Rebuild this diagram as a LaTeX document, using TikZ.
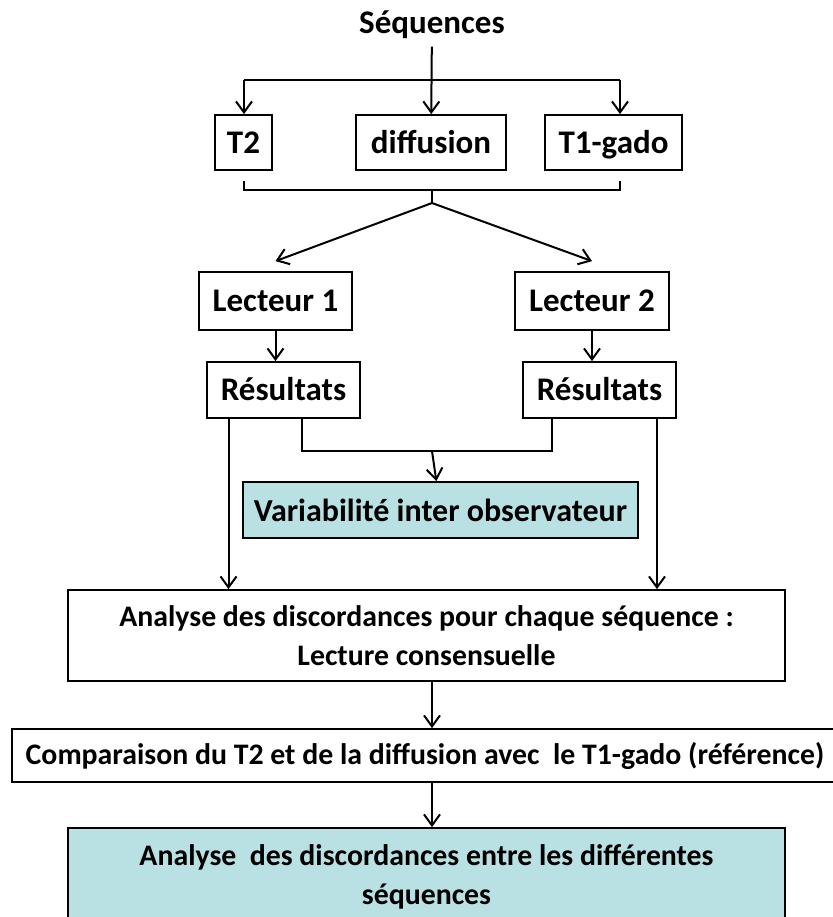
\documentclass[tikz,border=0pt]{standalone}
\usepackage{fontspec}
\setmainfont{Carlito}
\usetikzlibrary{arrows.meta,positioning}
\definecolor{aqua}{RGB}{185,224,227}
\begin{document}
\begin{tikzpicture}[x=0.5pt,y=-0.5pt,>={Straight Barb[length=5.5pt,width=8pt]},line width=1pt,
  every node/.style={font=\bfseries\fontsize{16.5}{20}\selectfont},
  box/.style={draw,line width=0.9pt,minimum height=27.5pt,inner sep=0pt,text height=13.6pt,text depth=3pt},
  widebox/.style={draw,line width=0.9pt,inner sep=0pt,font=\bfseries\fontsize{14.9}{19.5}\selectfont,align=center}]
\useasboundingbox (0,0) rectangle (832,917);
\node (seq) at (432,25) {Séquences};
\node[box,minimum width=28.5pt] (t2) at (243.5,142.5) {T2};
\node[box,minimum width=75pt] (diff) at (431,142.5) {diffusion};
\node[box,minimum width=68.5pt] (t1) at (613.5,142.5) {T1-gado};
\node[box,minimum width=76.5pt,minimum height=29pt] (lect1) at (275.5,301) {Lecteur 1};
\node[box,minimum width=77pt,minimum height=29pt] (lect2) at (592,301) {Lecteur 2};
\node[box,minimum width=76.5pt,minimum height=28pt] (res1) at (283.5,390) {Résultats};
\node[box,minimum width=76.5pt,minimum height=28pt] (res2) at (599.5,390) {Résultats};
\node[widebox,fill=aqua,minimum width=197.5pt,minimum height=28pt,font=\bfseries\fontsize{16}{19.5}\selectfont] (var) at (440.5,510) {Variabilité inter observateur};
\node[widebox,minimum width=358.5pt,minimum height=45.5pt] (ana) at (426.5,635.5)
  {Analyse des discordances pour chaque séquence :\\ Lecture consensuelle};
\node[widebox,minimum width=413pt,minimum height=26.5pt,font=\bfseries\fontsize{14.9}{19}\selectfont] (comp) at (425,755.5)
  {Comparaison du T2 et de la diffusion avec\ \ le T1-gado (référence)};
\node[widebox,fill=aqua,minimum width=358.5pt,minimum height=49pt] (fin) at (426.5,877)
  {Analyse\ \ des discordances entre les différentes\\ séquences};
% sequences
\coordinate (busL) at (244,80);
\coordinate (busR) at (620,80);
\draw[->] (seq) -- (diff);
\draw (busL) -- (busR);
\draw[->] (busL) -- (busL |- t2.north);
\draw[->] (busR) -- (busR |- t1.north);
% bracket and readers
\coordinate (brL) at (244,181);
\coordinate (brR) at (620,181);
\coordinate (join) at (432,190);
\coordinate (fork) at (432,203);
\draw (brL) |- (join) -| (brR);
\draw (join) -- (fork);
\draw[->] (fork) -- ([yshift=5pt]lect1.north);
\draw[->] (fork) -- ([yshift=5pt]lect2.north);
\draw[->] (lect1.south) -- (lect1.south |- res1.north);
\draw[->] (lect2.south) -- (lect2.south |- res2.north);
% results
\coordinate (mid) at (432,451);
\draw ([xshift=9.25pt]res1.south) |- (mid) -| ([xshift=-23.75pt]res2.south);
\draw[->] (mid) -- (var);
\draw[->] ([xshift=-27.5pt]res1.south) -- ([xshift=-27.5pt]res1.south |- ana.north);
\draw[->] ([xshift=28.75pt]res2.south) -- ([xshift=28.75pt]res2.south |- ana.north);
\draw[->] (ana.south -| mid) -- (mid |- comp.north);
\draw[->] (comp.south -| mid) -- (mid |- fin.north);
\end{tikzpicture}
\end{document}
